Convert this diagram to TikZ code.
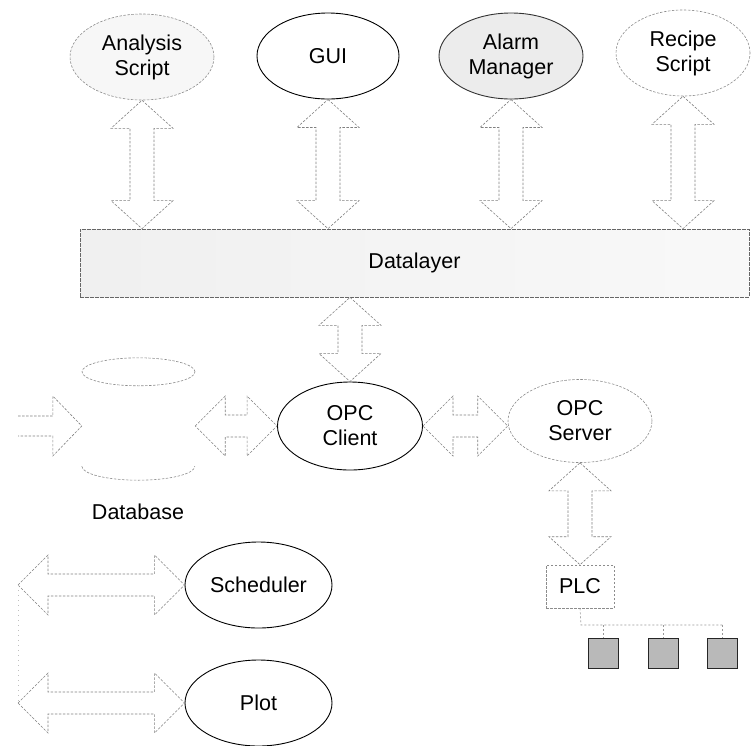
\documentclass[tikz,border=0pt]{standalone}
\usepackage{fontspec}
\setmainfont{Liberation Sans}
\usetikzlibrary{shapes.geometric,calc}
\newcommand{\lblfont}{\fontsize{21.5}{25}\selectfont}
\tikzset{
  ell/.style={ellipse, minimum width=144pt, minimum height=86pt, inner sep=0pt, align=center, font=\lblfont},
  solidline/.style={draw=black, line width=0.9pt},
  faint/.style={draw=black!45, line width=0.6pt, dash pattern=on 2.5pt off 1.5pt},
  barrow/.style={draw=black!50, line width=0.6pt, dash pattern=on 2.5pt off 1.5pt, line join=miter},
  plcbox/.style={rectangle, minimum width=68pt, minimum height=43pt, inner sep=0pt, font=\lblfont},
  iobox/.style={rectangle, minimum size=30pt, inner sep=0pt, draw=black!85, line width=1pt, fill=gray!55},
}
% vertical double block arrow: top point, bottom point
\newcommand{\vbarrow}[2]{%
  \draw[barrow] let \p1=(#1), \p2=(#2) in
    (\x1,\y1) -- (\x1+31pt,\y1-28pt) -- (\x1+12pt,\y1-28pt) -- (\x1+12pt,\y2+28pt)
    -- (\x1+31pt,\y2+28pt) -- (\x1,\y2) -- (\x1-31pt,\y2+28pt) -- (\x1-12pt,\y2+28pt)
    -- (\x1-12pt,\y1-28pt) -- (\x1-31pt,\y1-28pt) -- cycle;}
% horizontal double block arrow: left point, right point
\newcommand{\hbarrow}[2]{%
  \draw[barrow] let \p1=(#1), \p2=(#2) in
    (\x1,\y1) -- (\x1+30pt,\y1+30pt) -- (\x1+30pt,\y1+11pt) -- (\x2-30pt,\y1+11pt)
    -- (\x2-30pt,\y1+30pt) -- (\x2,\y1) -- (\x2-30pt,\y1-30pt) -- (\x2-30pt,\y1-11pt)
    -- (\x1+30pt,\y1-11pt) -- (\x1+30pt,\y1-30pt) -- cycle;}
\begin{document}
\begin{tikzpicture}[x=1pt,y=-1pt]
\useasboundingbox (0,0) rectangle (752,745);

% top applications
\node[ell, faint, fill=gray!6] (analysis) at (142,57) {Analysis\\Script};
\node[ell, solidline, fill=white, minimum width=142pt] (gui) at (328,56) {GUI};
\node[ell, solidline, draw=black!80, fill=gray!15] (alarm) at (511,56) {Alarm\\Manager};
\node[ell, faint, minimum width=134pt] (recipe) at (683,53) {Recipe\\Script};

% datalayer
\node[rectangle, minimum width=669pt, minimum height=68pt, inner sep=0pt,
      left color=gray!12, middle color=gray!24, right color=gray!5,
      draw=black!60, line width=0.7pt, dash pattern=on 4pt off 1pt,
      font=\lblfont] (dl) at (414.5,263) {Datalayer};

\vbarrow{analysis.south}{analysis.south |- dl.north}
\vbarrow{gui.south}{gui.south |- dl.north}
\vbarrow{alarm.south}{alarm.south |- dl.north}
\vbarrow{recipe.south}{recipe.south |- dl.north}

% OPC client / server
\node[ell, solidline, minimum width=145pt, minimum height=88pt] (opcc) at (350,426) {OPC\\Client};
\node[ell, faint, minimum height=83pt] (opcs) at (580,421) {OPC\\Server};

\vbarrow{dl.south -| opcc.north}{opcc.north}
\hbarrow{opcc.east}{opcs.west}

% database
\node[rectangle, minimum width=113pt, minimum height=122pt, inner sep=0pt] (db) at (138.5,419) {};
\draw[faint] ($(db.north)+(0,14)$) ellipse [x radius=56.5pt, y radius=14pt];
\draw[faint] ($(db.south west)+(0,-14)$) arc[start angle=180, end angle=360, x radius=56.5pt, y radius=14pt];
\node[font=\lblfont] (dblabel) at (138,512) {Database};

\hbarrow{db.east |- opcc.west}{opcc.west}
\coordinate (dbin) at (18,426);
\draw[barrow] let \p1=(dbin), \p2=(db.west |- opcc.west) in
  (\x1,\y2+10pt) -- (\x2-29pt,\y2+10pt) -- (\x2-29pt,\y2+30pt) -- (\x2,\y2)
  -- (\x2-29pt,\y2-30pt) -- (\x2-29pt,\y2-10pt) -- (\x1,\y2-10pt);

% PLC
\node[plcbox, faint] (plc) at (580,586.5) {PLC};
\vbarrow{opcs.south}{plc.north}

\node[iobox] (io1) at (603,653.5) {};
\node[iobox] (io2) at (663.5,653.5) {};
\node[iobox] (io3) at (722.5,653.5) {};
\coordinate (bus) at (581,625);
\draw[draw=black!40, line width=0.6pt, dash pattern=on 2pt off 2pt]
  (plc.south) -- (bus) -- (bus -| io3.north);
\draw[draw=black!40, line width=0.6pt, dash pattern=on 2pt off 2pt] (bus -| io1.north) -- (io1.north);
\draw[draw=black!40, line width=0.6pt, dash pattern=on 2pt off 2pt] (bus -| io2.north) -- (io2.north);
\draw[draw=black!40, line width=0.6pt, dash pattern=on 2pt off 2pt] (bus -| io3.north) -- (io3.north);

% scheduler / plot
\node[ell, solidline, minimum width=147pt] (sched) at (258.5,585) {Scheduler};
\node[ell, solidline, minimum width=147pt] (plot) at (258.5,703) {Plot};
\coordinate (sl) at (18,585);
\coordinate (pl) at (18,703);
\hbarrow{sl}{sched.west}
\hbarrow{pl}{plot.west}
\draw[draw=black!25, line width=0.6pt, dash pattern=on 1pt off 4pt] (sl) -- (pl);
\end{tikzpicture}
\end{document}
